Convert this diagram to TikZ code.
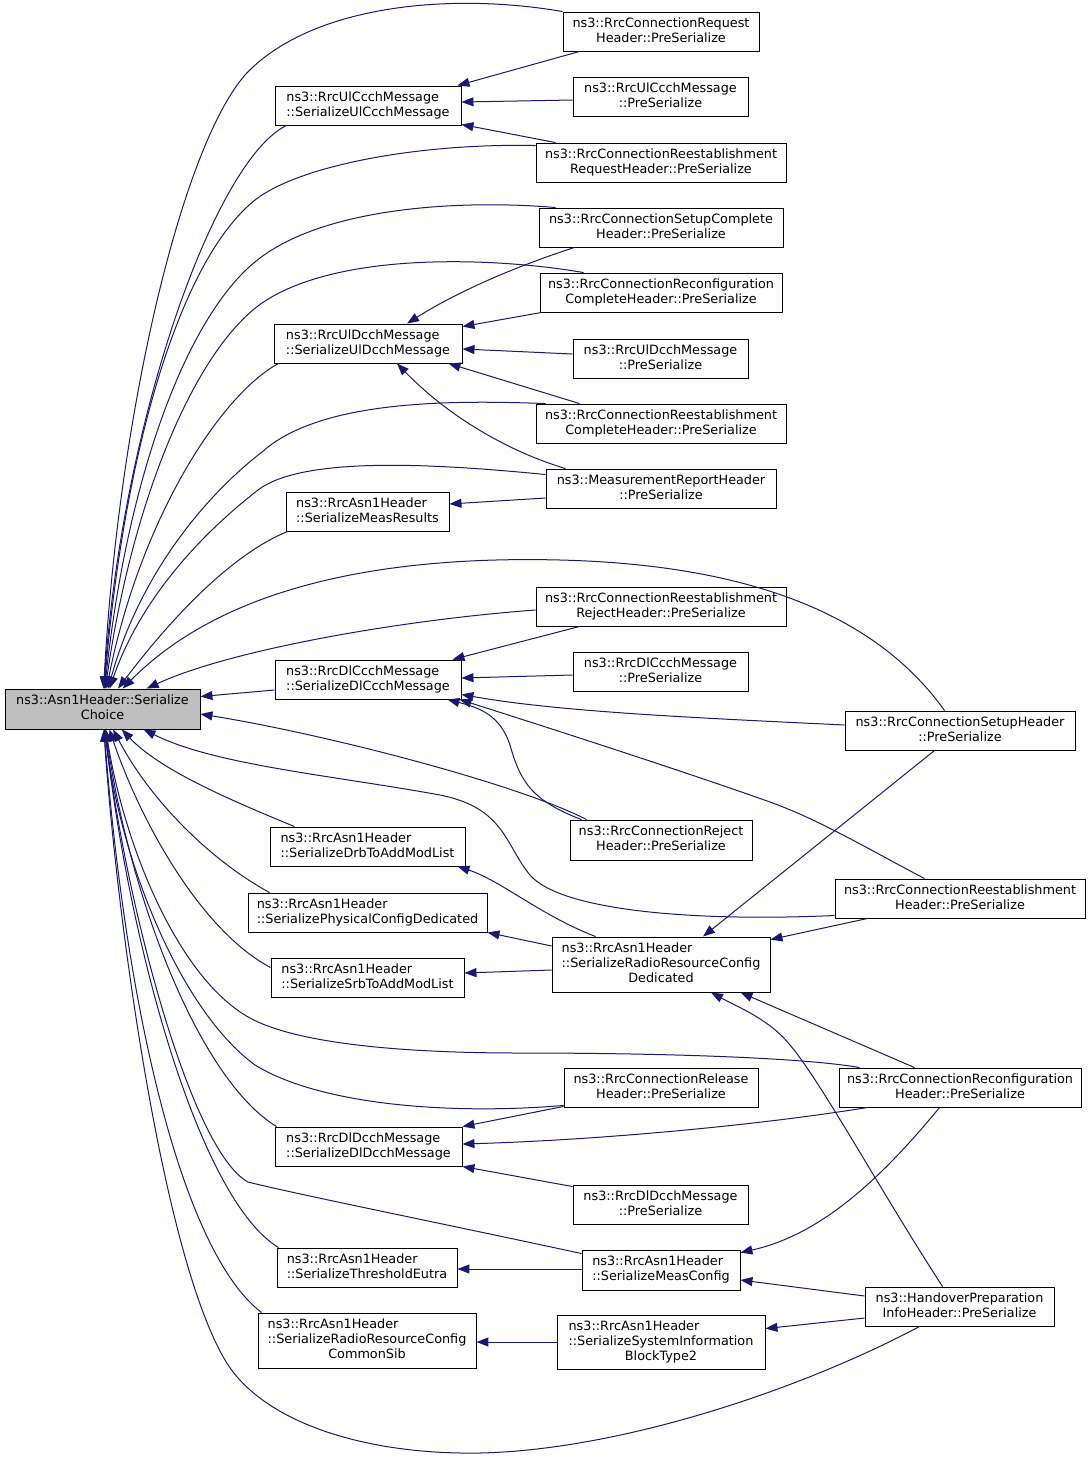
\documentclass[tikz,border=0pt]{standalone}
\usepackage{fontspec}
\setmainfont{DejaVu Sans}
\usetikzlibrary{arrows.meta, calc}

\definecolor{edgeblue}{HTML}{191970}
\definecolor{maingray}{HTML}{BFBFBF}
\newcommand{\fnsize}{\fontsize{12.8}{15}\selectfont}
% lines left aligned, last line centred
\newcommand{\lbl}[2]{\begin{tabular}{@{}l@{}}#1\\\multicolumn{1}{@{}c@{}}{#2}\end{tabular}}
\newcommand{\lblt}[3]{\begin{tabular}{@{}l@{}}#1\\#2\\\multicolumn{1}{@{}c@{}}{#3}\end{tabular}}

\tikzset{
    fnnode/.style={draw=black, fill=white, line width=0.9pt, inner sep=0pt, font=\fnsize},
    caller/.style={draw=edgeblue, line width=1pt, -{Triangle[length=12pt,width=9pt]}}
}

\begin{document}
\begin{tikzpicture}[x=1pt, y=-1pt]
        \useasboundingbox (0,0) rectangle (1091,1460);

        % the called function
        \node[fnnode, fill=maingray, minimum width=195, minimum height=40] (main) at (102.5,709) {\lbl{ns3::Asn1Header::Serialize}{Choice}};

        % middle column
        \node[fnnode, minimum width=186, minimum height=39] (ulccch) at (368,105.5) {\lbl{ns3::RrcUlCcchMessage}{::SerializeUlCcchMessage}};
        \node[fnnode, minimum width=188, minimum height=39] (uldcch) at (368,343.5) {\lbl{ns3::RrcUlDcchMessage}{::SerializeUlDcchMessage}};
        \node[fnnode, minimum width=163, minimum height=39] (measres) at (367.5,511.5) {\lbl{ns3::RrcAsn1Header}{::SerializeMeasResults}};
        \node[fnnode, minimum width=186, minimum height=39] (dlccch) at (368,679.5) {\lbl{ns3::RrcDlCcchMessage}{::SerializeDlCcchMessage}};
        \node[fnnode, minimum width=195, minimum height=39] (drb) at (367.5,846.5) {\lbl{ns3::RrcAsn1Header}{::SerializeDrbToAddModList}};
        \node[fnnode, minimum width=239, minimum height=39] (phys) at (367.5,912.5) {\lbl{ns3::RrcAsn1Header}{::SerializePhysicalConfigDedicated}};
        \node[fnnode, minimum width=193, minimum height=39] (srb) at (367.5,977.5) {\lbl{ns3::RrcAsn1Header}{::SerializeSrbToAddModList}};
        \node[fnnode, minimum width=187, minimum height=39] (dldcch) at (368.5,1146.5) {\lbl{ns3::RrcDlDcchMessage}{::SerializeDlDcchMessage}};
        \node[fnnode, minimum width=180, minimum height=39] (thresh) at (367,1267.5) {\lbl{ns3::RrcAsn1Header}{::SerializeThresholdEutra}};
        \node[fnnode, minimum width=218, minimum height=55] (rrccommon) at (367,1340.5) {\lblt{ns3::RrcAsn1Header}{::SerializeRadioResourceConfig}{CommonSib}};

        % right column
        \node[fnnode, minimum width=196, minimum height=39] (req) at (661,31.5) {\lbl{ns3::RrcConnectionRequest}{Header::PreSerialize}};
        \node[fnnode, minimum width=175, minimum height=39] (ulccchpre) at (660.5,96.5) {\lbl{ns3::RrcUlCcchMessage}{::PreSerialize}};
        \node[fnnode, minimum width=250, minimum height=39] (reestreq) at (661,162.5) {\lbl{ns3::RrcConnectionReestablishment}{RequestHeader::PreSerialize}};
        \node[fnnode, minimum width=244, minimum height=39] (setupcomp) at (661,227.5) {\lbl{ns3::RrcConnectionSetupComplete}{Header::PreSerialize}};
        \node[fnnode, minimum width=242, minimum height=39] (reconfcomp) at (661,292.5) {\lbl{ns3::RrcConnectionReconfiguration}{CompleteHeader::PreSerialize}};
        \node[fnnode, minimum width=175, minimum height=39] (uldcchpre) at (660.5,358.5) {\lbl{ns3::RrcUlDcchMessage}{::PreSerialize}};
        \node[fnnode, minimum width=250, minimum height=39] (reestcomp) at (661,423.5) {\lbl{ns3::RrcConnectionReestablishment}{CompleteHeader::PreSerialize}};
        \node[fnnode, minimum width=230, minimum height=39] (measrep) at (661,488.5) {\lbl{ns3::MeasurementReportHeader}{::PreSerialize}};
        \node[fnnode, minimum width=250, minimum height=39] (reestrej) at (661,606.5) {\lbl{ns3::RrcConnectionReestablishment}{RejectHeader::PreSerialize}};
        \node[fnnode, minimum width=175, minimum height=39] (dlccchpre) at (660.5,671.5) {\lbl{ns3::RrcDlCcchMessage}{::PreSerialize}};
        \node[fnnode, minimum width=182, minimum height=40] (reject) at (661,840) {\lbl{ns3::RrcConnectionReject}{Header::PreSerialize}};
        \node[fnnode, minimum width=218, minimum height=55] (rrcded) at (661,964.5) {\lblt{ns3::RrcAsn1Header}{::SerializeRadioResourceConfig}{Dedicated}};
        \node[fnnode, minimum width=194, minimum height=39] (release) at (661,1087.5) {\lbl{ns3::RrcConnectionRelease}{Header::PreSerialize}};
        \node[fnnode, minimum width=175, minimum height=39] (dldcchpre) at (660.5,1204.5) {\lbl{ns3::RrcDlDcchMessage}{::PreSerialize}};
        \node[fnnode, minimum width=158, minimum height=40] (measconf) at (661,1270) {\lbl{ns3::RrcAsn1Header}{::SerializeMeasConfig}};
        \node[fnnode, minimum width=208, minimum height=54] (sib2) at (661,1342) {\lblt{ns3::RrcAsn1Header}{::SerializeSystemInformation}{BlockType2}};

        % far right column
        \node[fnnode, minimum width=230, minimum height=39] (setup) at (960,730.5) {\lbl{ns3::RrcConnectionSetupHeader}{::PreSerialize}};
        \node[fnnode, minimum width=250, minimum height=39] (reest) at (960,898.5) {\lbl{ns3::RrcConnectionReestablishment}{Header::PreSerialize}};
        \node[fnnode, minimum width=242, minimum height=39] (reconf) at (960,1087.5) {\lbl{ns3::RrcConnectionReconfiguration}{Header::PreSerialize}};
        \node[fnnode, minimum width=189, minimum height=39] (handover) at (959.5,1306.5) {\lbl{ns3::HandoverPreparation}{InfoHeader::PreSerialize}};

        % callers of the main function
        \draw[caller] (req.north west) .. controls (450,-8) and (310,5) .. (245,75) .. controls (180,150) and (118,420) .. (main);
        \draw[caller] ($(ulccch.south west)+(12,0)$) .. controls (215,160) and (122,420) .. (main);
        \draw[caller] ($(reestreq.north west)+(0,3)$) .. controls (420,143) and (300,165) .. (255,200) .. controls (180,260) and (124,450) .. (main);
        \draw[caller] ($(setupcomp.north west)+(17,0)$) .. controls (470,200) and (330,205) .. (260,258) .. controls (190,310) and (128,470) .. (main);
        \draw[caller] ($(reconfcomp.north west)+(44,0)$) .. controls (500,258) and (340,250) .. (262,303) .. controls (195,350) and (132,500) .. (main);
        \draw[caller] ($(uldcch.south west)+(5,0)$) .. controls (220,395) and (140,520) .. (main);
        \draw[caller] ($(reestcomp.north west)+(10,0)$) .. controls (450,400) and (320,400) .. (262,452) .. controls (200,500) and (138,580) .. (main);
        \draw[caller] ($(measrep.north west)+(0,6)$) .. controls (420,462) and (300,458) .. (258,490) .. controls (200,535) and (140,600) .. (main);
        \draw[caller] ($(measres.south west)+(2,0)$) .. controls (230,555) and (170,620) .. (main);
        \draw[caller] ($(setup.north west)+(100,0)$) .. controls (880,620) and (760,565) .. (560,560) .. controls (400,556) and (230,580) .. (main);
        \draw[caller] ($(reestrej.west)+(0,3.5)$) .. controls (400,620) and (230,650) .. (main);
        \draw[caller] ($(dlccch.west)+(0,10.5)$) -- ($(main.north east)+(0,8)$);
        \draw[caller] ($(reject.north west)+(17,0)$) .. controls (520,785) and (330,735) .. ($(main.east)+(0,5)$);
        \draw[caller] ($(reest.west)+(0,17)$) .. controls (690,922) and (560,910) .. (530,875) .. controls (505,845) and (505,808) .. (440,795) .. controls (330,775) and (215,765) .. (main);
        \draw[caller] ($(drb.north west)+(25,0)$) .. controls (230,800) and (160,770) .. (main);
        \draw[caller] ($(phys.north west)+(22,0)$) .. controls (210,860) and (150,800) .. (main);
        \draw[caller] ($(srb.west)+(0,-10)$) .. controls (200,930) and (140,820) .. (main);
        \draw[caller] ($(reconf.north west)+(21,0)$) .. controls (800,1057) and (650,1053) .. (520,1053) .. controls (380,1053) and (290,1040) .. (250,1018) .. controls (180,980) and (125,850) .. (main);
        \draw[caller] ($(release.south west)+(0,-2)$) .. controls (450,1115) and (320,1105) .. (255,1065) .. controls (180,1010) and (120,860) .. (main);
        \draw[caller] ($(dldcch.north west)+(2,0)$) .. controls (200,1080) and (130,900) .. (main);
        \draw[caller] ($(measconf.north west)+(0,4)$) .. controls (450,1225) and (300,1195) .. (248,1182) .. controls (190,1150) and (125,900) .. (main);
        \draw[caller] ($(thresh.north west)+(2,0)$) .. controls (200,1200) and (130,950) .. (main);
        \draw[caller] ($(rrccommon.north west)+(4,0)$) .. controls (180,1250) and (125,1000) .. (main);
        \draw[caller] ($(handover.south west)+(55,0)$) .. controls (800,1390) and (620,1450) .. (480,1453) .. controls (360,1455) and (260,1420) .. (225,1360) .. controls (160,1250) and (115,900) .. (main);

        % the other calls
        \draw[caller] ($(req.south west)+(17,0)$) -- ($(ulccch.north east)+(-4,0)$);
        \draw[caller] ($(ulccchpre.west)+(0,3.5)$) -- ($(ulccch.east)+(0,-3.5)$);
        \draw[caller] ($(reestreq.north west)+(20,0)$) -- ($(ulccch.south east)+(0,-1)$);
        \draw[caller] ($(setupcomp.south west)+(36,0)$) .. controls (520,265) and (460,290) .. ($(uldcch.north)+(39,0)$);
        \draw[caller] ($(reconfcomp.south west)+(2,0)$) -- ($(uldcch.north east)+(0,3)$);
        \draw[caller] ($(uldcchpre.west)+(0,-4.5)$) -- ($(uldcch.east)+(0,5.5)$);
        \draw[caller] ($(reestcomp.north west)+(44,0)$) -- ($(uldcch.south east)+(-14,0)$);
        \draw[caller] ($(measrep.north west)+(20,0)$) .. controls (510,452) and (450,418) .. ($(uldcch.south)+(29,0)$);
        \draw[caller] ($(measrep.west)+(0,9.5)$) -- ($(measres.east)+(0,-7.5)$);
        \draw[caller] ($(reestrej.south west)+(44,0)$) -- ($(dlccch.north east)+(-9,0)$);
        \draw[caller] ($(dlccchpre.west)+(0,3.5)$) -- ($(dlccch.east)+(0,-1.5)$);
        \draw[caller] ($(setup.west)+(0,-5.5)$) .. controls (700,718) and (560,712) .. ($(dlccch.south east)+(0,-5)$);
        \draw[caller] ($(reject.north west)+(12,0)$) .. controls (530,800) and (520,780) .. (510,745) .. controls (500,715) and (480,708) .. ($(dlccch.south east)+(-14,0)$);
        \draw[caller] ($(reest.north west)+(90,0)$) .. controls (870,850) and (820,820) .. (770,802) .. controls (680,770) and (540,725) .. ($(dlccch.south east)+(-2,0)$);
        \draw[caller] ($(setup.south west)+(90,0)$) -- ($(rrcded.north)+(42,0)$);
        \draw[caller] ($(reest.south west)+(33,0)$) -- ($(rrcded.north east)+(0,3)$);
        \draw[caller] ($(rrcded.north west)+(44,0)$) .. controls (540,915) and (500,880) .. ($(drb.south east)+(-8,0)$);
        \draw[caller] ($(rrcded.west)+(0,-18.5)$) -- (phys.south east);
        \draw[caller] ($(rrcded.west)+(0,5.5)$) -- ($(srb.east)+(0,-4.5)$);
        \draw[caller] ($(reconf.north west)+(76,0)$) -- ($(rrcded.south east)+(-30,0)$);
        \draw[caller] ($(handover.north west)+(78,0)$) .. controls (880,1190) and (820,1080) .. (790,1045) .. controls (770,1020) and (740,1008) .. ($(rrcded.south)+(50,0)$);
        \draw[caller] ($(reconf.south west)+(101,0)$) .. controls (880,1180) and (820,1235) .. ($(measconf.north east)+(0,3)$);
        \draw[caller] ($(handover.west)+(0,-10.5)$) -- ($(measconf.east)+(0,10)$);
        \draw[caller] ($(handover.west)+(0,11.5)$) -- ($(sib2.north east)+(0,14)$);
        \draw[caller] ($(release.south west)+(0,-1)$) -- (dldcch.north east);
        \draw[caller] ($(reconf.south west)+(29,0)$) .. controls (760,1125) and (600,1140) .. ($(dldcch.east)+(0,-2.5)$);
        \draw[caller] ($(dldcchpre.north west)+(0,2)$) -- (dldcch.south east);
        \draw[caller] ($(measconf.west)+(0,-1)$) -- ($(thresh.east)+(0,1.5)$);
        \draw[caller] (sib2.west) -- ($(rrccommon.east)+(0,1.5)$);
\end{tikzpicture}
\end{document}
